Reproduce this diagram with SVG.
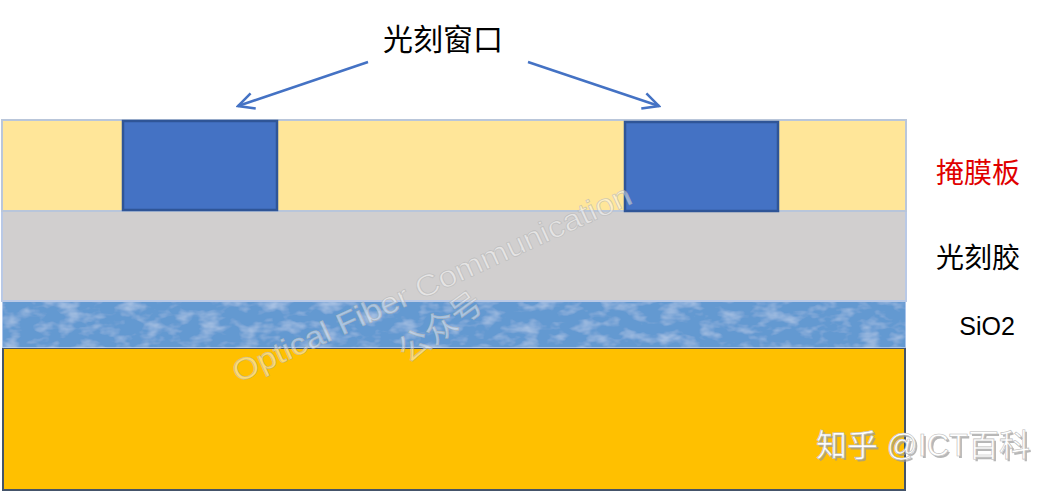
<svg xmlns="http://www.w3.org/2000/svg" width="1061" height="493" viewBox="0 0 1061 493">
<style>
.lbl{font-family:"Liberation Sans","Noto Sans CJK SC",sans-serif;fill:#000}
.win{fill:#4472C4;stroke:#2F5597;stroke-width:2.5}
.arr{stroke:#4472C4;stroke-width:2.5;fill:none}
.wm{font-family:"Liberation Sans","Noto Sans CJK SC",sans-serif;fill:#fff;fill-opacity:0.45;stroke:#b0b0b0;stroke-opacity:0.6;stroke-width:0.8}
</style>
<defs>
<marker id="open" viewBox="0 0 20 20" refX="18" refY="10" markerWidth="20" markerHeight="20" markerUnits="userSpaceOnUse" orient="auto">
<path d="M2,2 L18,10 L2,18" fill="none" stroke="#4472C4" stroke-width="2.5"/>
</marker>
<filter id="tex" x="0" y="0" width="100%" height="100%">
<feTurbulence type="fractalNoise" baseFrequency="0.05 0.09" numOctaves="3" seed="4" result="n"/>
<feColorMatrix in="n" type="matrix" values="0 0 0 0 0.8  0 0 0 0 0.87  0 0 0 0 0.97  0 0 0 0.9 -0.42" result="c"/>
<feComposite in="c" in2="SourceGraphic" operator="in" result="m"/>
<feMerge><feMergeNode in="SourceGraphic"/><feMergeNode in="m"/></feMerge>
</filter>
</defs>
<rect width="1061" height="493" fill="#fff"/>
<g id="substrate"><rect x="3" y="348" width="902" height="142" fill="#FFC000" stroke="#44546A" stroke-width="2"/></g>
<g id="sio2"><rect x="2" y="301" width="904" height="47" fill="#6399d1" stroke="#a9c4ea" stroke-width="2" filter="url(#tex)"/></g>
<g id="resist"><rect x="2" y="211" width="904" height="90" fill="#D1CFCF" stroke="#b9c9e6" stroke-width="2"/></g>
<g id="mask"><rect x="2" y="120" width="904" height="91" fill="#FFE699" stroke="#b9c6da" stroke-width="2"/></g>
<g id="window1"><rect class="win" x="123" y="121" width="154" height="89"/></g>
<g id="window2"><rect class="win" x="625" y="122" width="153" height="89"/></g>
<g id="connectors">
<line class="arr" x1="368" y1="62" x2="238" y2="106" marker-end="url(#open)"/>
<line class="arr" x1="528" y1="62" x2="659" y2="106" marker-end="url(#open)"/>
</g>
<g id="title"><text class="lbl" x="443" y="50" font-size="30" text-anchor="middle">光刻窗口</text></g>
<g id="label-mask"><text class="lbl" x="978" y="183" font-size="28" text-anchor="middle" style="fill:#E00000">掩膜板</text></g>
<g id="label-resist"><text class="lbl" x="978" y="268" font-size="28" text-anchor="middle">光刻胶</text></g>
<g id="label-sio2"><text class="lbl" x="987" y="335" font-size="25" text-anchor="middle">SiO2</text></g>
<g id="watermarks">
<text class="wm" x="238" y="383" font-size="30" transform="rotate(-24.5 238 383)" textLength="435" lengthAdjust="spacingAndGlyphs">Optical Fiber Communication</text>
<text class="wm" x="408" y="364" font-size="32" transform="rotate(-36 408 364)">公众号</text>
<text x="818" y="458" font-size="31" font-family="Liberation Sans,Noto Sans CJK SC,sans-serif" fill="#999" opacity="0.7">知乎 @ICT百科</text>
<text x="816" y="456" font-size="31" font-family="Liberation Sans,Noto Sans CJK SC,sans-serif" fill="#fff" stroke="#bbb" stroke-width="0.6">知乎 @ICT百科</text>
</g>
</svg>
